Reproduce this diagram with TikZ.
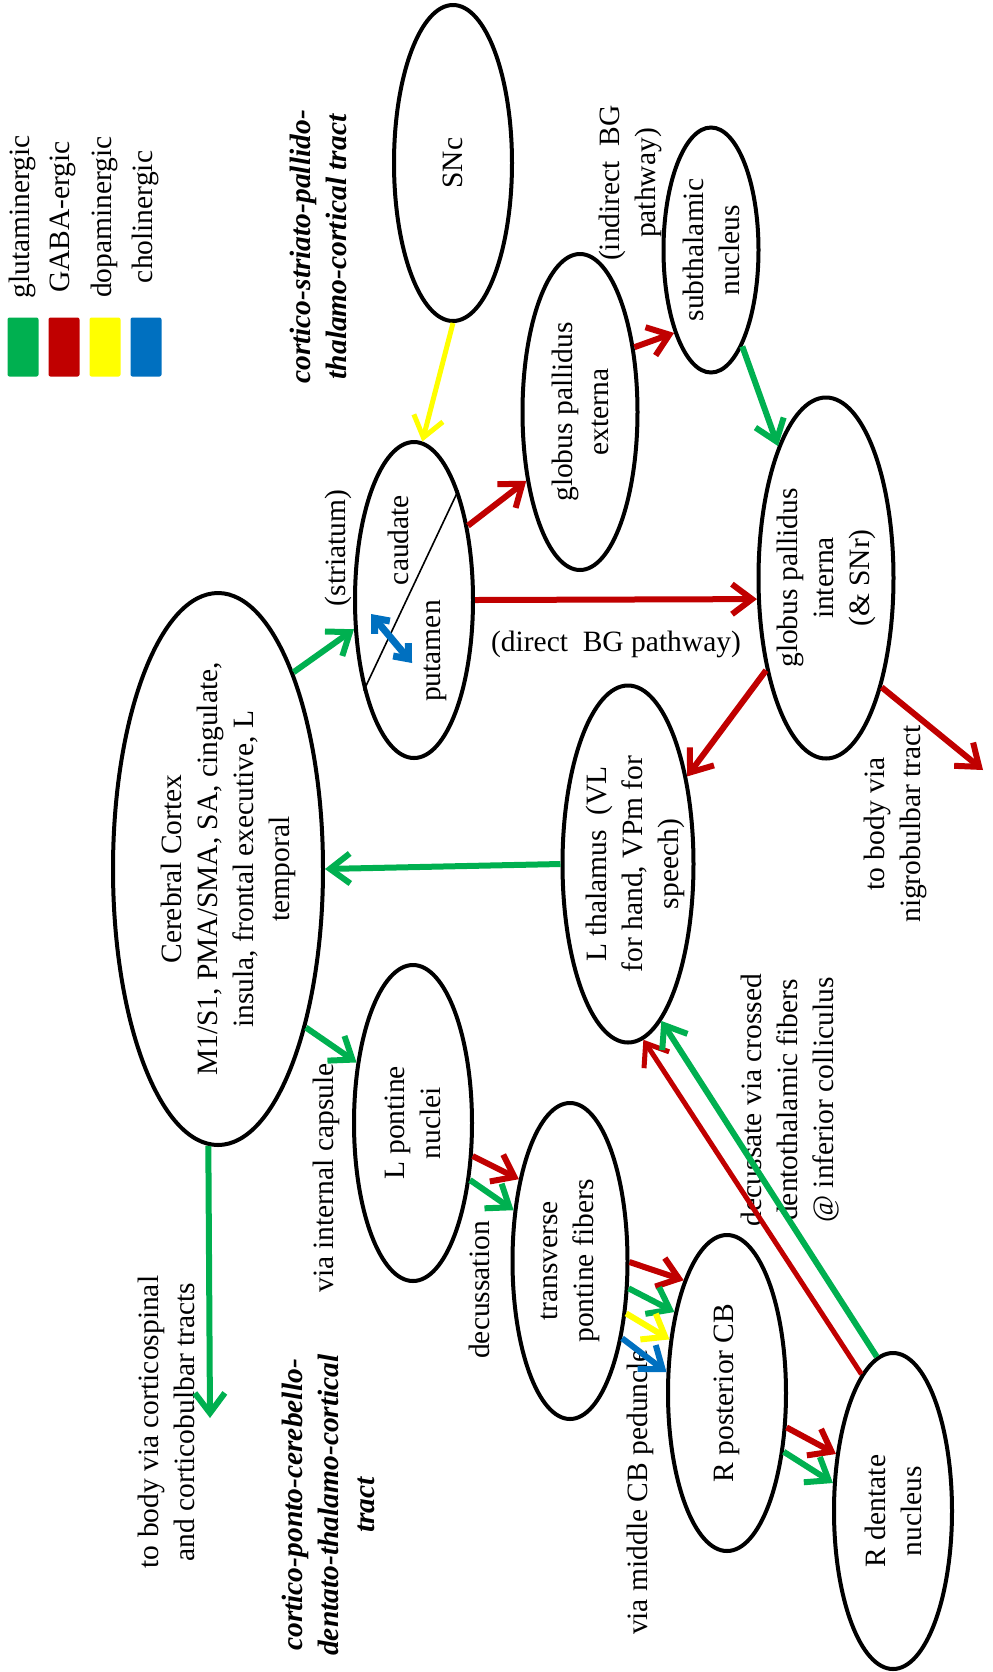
\documentclass[tikz,border=0pt]{standalone}
\usepackage{fontspec}
\setmainfont{Liberation Serif}
\usetikzlibrary{shapes.geometric, arrows.meta}
\definecolor{glugreen}{RGB}{0,176,80}
\definecolor{gabared}{RGB}{192,0,0}
\definecolor{dopayellow}{RGB}{255,255,0}
\definecolor{achblue}{RGB}{0,112,192}

\begin{document}
\begin{tikzpicture}[
    x=0.5pt, y=-0.5pt,
    region/.style={draw, ellipse, line width=2pt, inner sep=0pt, minimum width=158pt, minimum height=59pt, rotate=90},
    lbl/.style={rotate=90, align=center, inner sep=0pt, font=\fontsize{14.75}{18}\selectfont},
    tract/.style={lbl, font=\fontsize{14.75}{18}\selectfont\bfseries\itshape},
    swatch/.style={rounded corners=1pt, minimum width=15.5pt, minimum height=29.5pt, inner sep=0pt},
    pathway/.style={line width=3pt, -{Straight Barb[length=10pt, width=15pt]}},
    glu/.style={pathway, draw=glugreen},
    gaba/.style={pathway, draw=gabared},
    dopa/.style={pathway, draw=dopayellow},
    ach/.style={pathway, draw=achblue}
]
    \useasboundingbox (0,0) rectangle (992,1672);

    % Legend
    \foreach \col/\txt [count=\i] in {glugreen/glutaminergic, gabared/GABA-ergic, dopayellow/dopaminergic, achblue/cholinergic}{
        \node[swatch, fill=\col] (key\i) at ({23+41*(\i-1)}, 347) {};
        \node[lbl] (keytext\i) at ({22+41*(\i-1)}, 217) {\txt};
    }

    % Tract titles
    \node[tract] (bgtitle) at (318,247) {cortico-striato-pallido-\\thalamo-cortical tract};
    \node[tract] (cbtitle) at (328,1505) {cortico-ponto-cerebello-\\dentato-thalamo-cortical\\tract};

    % Regions
    \node[region] (snc) at (453,163) {};
    \node[region] (striatum) at (414,600) {};
    \node[region, minimum height=57.5pt] (gpe) at (580,412) {};
    \node[region, minimum width=122.5pt, minimum height=47.5pt] (stn) at (711,250) {};
    \node[region, minimum width=180.5pt, minimum height=67.5pt] (gpi) at (826,578) {};
    \node[region, minimum width=178.5pt, minimum height=65.5pt] (thal) at (628,864) {};
    \node[region, minimum width=276pt, minimum height=105pt] (cortex) at (218,869) {};
    \node[region] (pons) at (413,1123) {};
    \node[region, minimum height=57.5pt] (tpf) at (570,1261) {};
    \node[region] (pcb) at (727,1393) {};
    \node[region] (dent) at (893,1511) {};

    % Region texts
    \node[lbl] (snctext) at (snc) {SNc};
    \node[lbl] (caudate) at (398,540) {caudate};
    \node[lbl] (putamen) at (435,651) {putamen};
    \node[lbl] (striatumtext) at (338,548) {(striatum)};
    \node[lbl] (gpetext) at (gpe) {globus pallidus\\externa};
    \node[lbl] (stntext) at (stn) {subthalamic\\nucleus};
    \node[lbl] (gpitext) at (gpi) {globus pallidus\\interna\\(\& SNr)};
    \node[lbl] (thaltext) at (635,864) {L thalamus\ \ (VL\\for hand, VPm for\\speech)};
    \node[lbl] (cortextext) at (228,869) {Cerebral Cortex\\M1/S1, PMA/SMA, SA, cingulate,\\insula, frontal executive, L\\temporal};
    \node[lbl] (ponstext) at (pons) {L pontine\\nuclei};
    \node[lbl] (tpftext) at (tpf) {transverse\\pontine fibers};
    \node[lbl] (pcbtext) at (pcb) {R posterior CB};
    \node[lbl] (denttext) at (dent) {R dentate\\nucleus};

    % Side notes
    \node[lbl] (indirect) at (630,183) {(indirect\ \ BG\\pathway)};
    \node[lbl] (capsule) at (326,1178) {via internal capsule};
    \node[lbl] (decussation) at (479,1290) {decussation};
    \node[lbl] (peduncle) at (640,1492) {via middle CB peduncle};
    \node[lbl] (crossed) at (790,1100) {decussate via crossed\\dentothalamic fibers\\@ inferior colliculus};
    \node[lbl] (nigrotext) at (895,824) {to body via\\nigrobulbar tract};
    \node[lbl] (spinaltext) at (166,1422) {to body via corticospinal\\and corticobulbar tracts};

    \coordinate (nigro) at (983,770);
    \coordinate (spinal) at (210,1418);
    \coordinate (achA) at (371,614);
    \coordinate (achB) at (412,663);

    % Striatum divider
    \draw[line width=0.8pt] (striatum.-22.2) -- (striatum.151.6);

    % Basal ganglia loop
    \draw[dopa, line width=2.5pt] (snc.west) -- (striatum.-3);
    \draw[glu] (cortex.-21.6) -- (striatum.116.6);
    \draw[draw=achblue, line width=3.5pt, {Straight Barb[length=6pt, width=10pt]}-{Straight Barb[length=6pt, width=10pt]}] (achA) -- (achB);
    \draw[gaba] (striatum.-36.7) -- (gpe.142.6);
    \draw[gaba] (striatum.south) -- node[below=11pt, font=\fontsize{14.75}{18}\selectfont] (direct) {(direct\ \ BG pathway)} (gpi.107.7);
    \draw[gaba] (gpe.-40.7) -- (stn.156);
    \draw[glu] (stn.-162.3) -- (gpi.20.6);
    \draw[gaba] (gpi.147) -- (thal.-34);
    \draw[gaba] (gpi.-153.7) -- (nigro);
    \draw[glu] (thal.north) -- (cortex.south);
    \draw[glu] (cortex.178.3) -- (spinal);

    % Cerebellar loop
    \draw[glu] (cortex.-151.1) -- (pons.43.9);
    \draw[gaba] (pons.-119.6) -- (tpf.32.3);
    \draw[glu] (pons.-135) -- (tpf.48.3);
    \draw[gaba] (tpf.-91) -- (pcb.21.1);
    \draw[glu] (tpf.-115.8) -- (pcb.33.5);
    \draw[dopa] (tpf.-133) -- (pcb.47.2);
    \draw[ach] (tpf.-146.5) -- (pcb.71);
    \draw[gaba] (pcb.-120.3) -- (dent.45);
    \draw[glu] (pcb.-136.5) -- (dent.65.7);
    \draw[gaba, line width=2.5pt] (dent.13.9) -- (thal.185.1);
    \draw[glu] (dent.6.8) -- (thal.-168);
\end{tikzpicture}
\end{document}
